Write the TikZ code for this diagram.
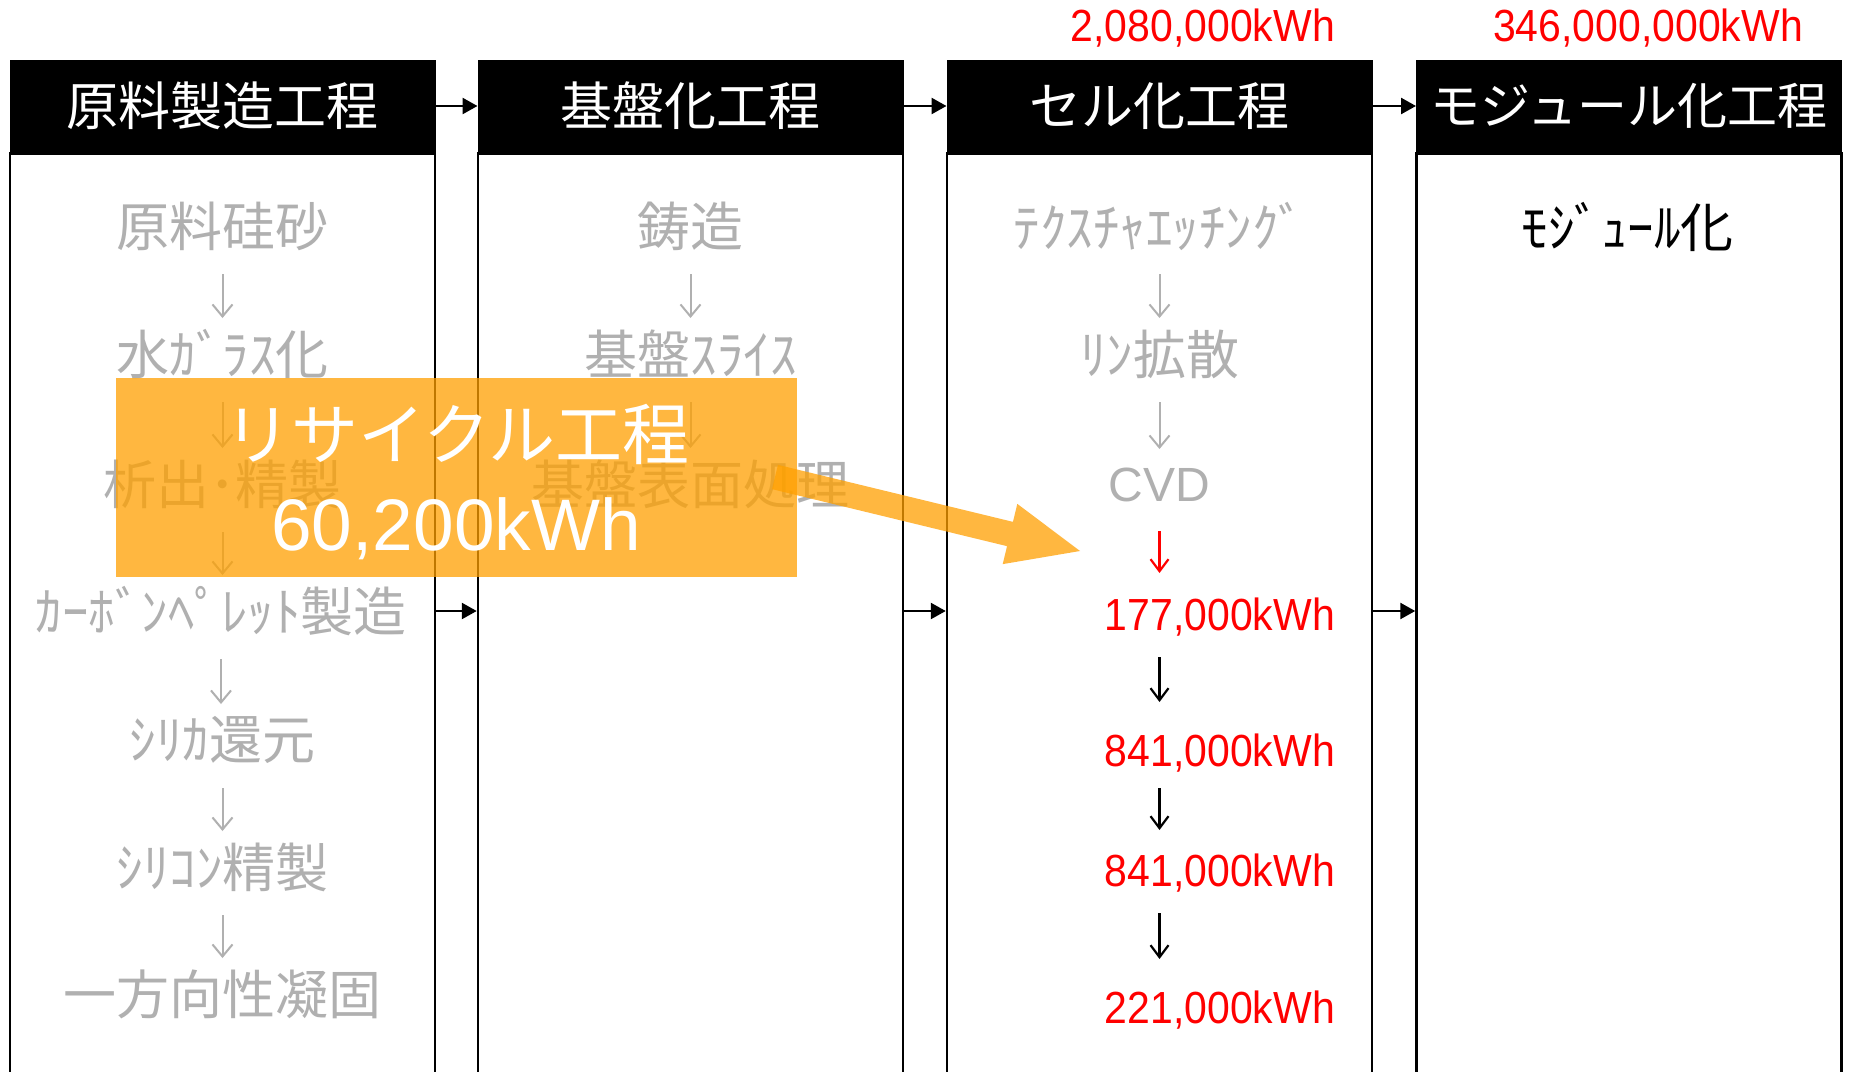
\documentclass[tikz,border=0pt]{standalone}
\usepackage{fontspec}
\newfontfamily\jp{Noto Sans CJK JP}
\newfontfamily\lat{Liberation Sans}
\newfontfamily\numf[FakeStretch=0.91]{Liberation Sans}
\usetikzlibrary{arrows.meta,calc}
\definecolor{txtgray}{RGB}{176,176,176}
\definecolor{recorange}{RGB}{255,160,0}
\definecolor{numred}{RGB}{255,0,0}
\begin{document}
\begin{tikzpicture}[x=1pt,y=-1pt,
  colbox/.style={draw=black, line width=2.5pt, minimum width=425pt, minimum height=940pt, anchor=north, inner sep=0pt},
  header/.style={fill=black, draw=black, line width=1pt, minimum width=425pt, minimum height=92pt, inner sep=0pt, text=white, font=\jp\fontsize{52}{60}\selectfont},
  item/.style={text=txtgray, inner sep=0pt, font=\jp\fontsize{53}{60}\selectfont},
  numlabel/.style={text=numred, inner sep=0pt, anchor=east, font=\numf\fontsize{45}{50}\selectfont},
  garr/.style={draw=txtgray, line width=2pt, -{Straight Barb[length=12pt,width=20pt,line width=2pt]}},
  rarr/.style={draw=numred, line width=2.2pt, -{Straight Barb[length=12pt,width=18pt,line width=2.2pt]}},
  barr/.style={draw=black, line width=2.2pt, -{Straight Barb[length=12pt,width=18pt,line width=2.2pt]}},
  harr/.style={draw=black, line width=2.5pt, -{Triangle[length=15pt,width=16pt]}},
  recbox/.style={fill=recorange, fill opacity=0.75, text opacity=1, inner sep=0pt, minimum width=681pt, minimum height=199pt}
]
\useasboundingbox (0,0) rectangle (1849,1071);
\fill[white] (0,0) rectangle (1849,1071);

% column bodies
\node[colbox] (b1) at (222.5,152) {};
\node[colbox] (b2) at (690.5,152) {};
\node[colbox] (b3) at (1159.5,152) {};
\node[colbox] (b4) at (1629,152) {};

% headers
\node[header] (h1) at (222.5,106) {原料製造工程};
\node[header] (h2) at (690.5,106) {基盤化工程};
\node[header] (h3) at (1159.5,106) {セル化工程};
\node[header, font=\jp\fontsize{50}{60}\selectfont] (h4) at (1629,106) {モジュール化工程};

\draw[harr] (h1.east) -- (h2.west);
\draw[harr] (h2.east) -- (h3.west);
\draw[harr] (h3.east) -- (h4.west);

% top energy labels
\node[numlabel] (t3) at (1335,28) {2,080,000kWh};
\node[numlabel] (t4) at (1803,28) {346,000,000kWh};

% column 1 items
\node[item] (i11) at (222.5,226) {原料硅砂};
\node[item] (i12) at (222.5,354) {水ｶﾞﾗｽ化};
\node[item] (i13) at (222.5,484) {析出･精製};
\node[item] (i14) at (221,611) {ｶｰﾎﾞﾝﾍﾟﾚｯﾄ製造};
\node[item] (i15) at (222.5,740) {ｼﾘｶ還元};
\node[item] (i16) at (222.5,867) {ｼﾘｺﾝ精製};
\node[item] (i17) at (222.5,994) {一方向性凝固};
\draw[garr] ($(i11.center)+(0,48)$) -- ($(i11.center |- i12.center)+(0,-36)$);
\draw[garr] ($(i12.center)+(0,48)$) -- ($(i12.center |- i13.center)+(0,-36)$);
\draw[garr] ($(i13.center)+(0,48)$) -- ($(i13.center |- i14.center)+(0,-36)$);
\draw[garr] ($(i14.center)+(0,48)$) -- ($(i14.center |- i15.center)+(0,-36)$);
\draw[garr] ($(i15.center)+(0,48)$) -- ($(i15.center |- i16.center)+(0,-36)$);
\draw[garr] ($(i16.center)+(0,48)$) -- ($(i16.center |- i17.center)+(0,-36)$);

% column 2 items
\node[item] (i21) at (690.5,226) {鋳造};
\node[item] (i22) at (690.5,354) {基盤ｽﾗｲｽ};
\node[item] (i23) at (690.5,484) {基盤表面処理};
\draw[garr] ($(i21.center)+(0,48)$) -- ($(i21.center |- i22.center)+(0,-36)$);
\draw[garr] ($(i22.center)+(0,48)$) -- ($(i22.center |- i23.center)+(0,-36)$);

% column 3 items
\node[item] (i31) at (1159.5,226) {ﾃｸｽﾁｬｴｯﾁﾝｸﾞ};
\node[item] (i32) at (1159.5,354) {ﾘﾝ拡散};
\node[item, font=\lat\fontsize{48}{50}\selectfont] (i33) at (1159.5,485) {CVD};
\draw[garr] ($(i31.center)+(0,48)$) -- ($(i31.center |- i32.center)+(0,-36)$);
\draw[garr] ($(i32.center)+(0,48)$) -- ($(i32.center |- i33.center)+(0,-36)$);

\node[numlabel] (n1) at (1335,617) {177,000kWh};
\node[numlabel] (n2) at (1335,753) {841,000kWh};
\node[numlabel] (n3) at (1335,873) {841,000kWh};
\node[numlabel] (n4) at (1335,1010) {221,000kWh};
\draw[rarr] ($(i33.center)+(0,46)$) -- ($(i33.center |- n1.center)+(0,-44)$);
\draw[barr] ($(i33.center |- n1.center)+(0,40)$) -- ($(i33.center |- n2.center)+(0,-51)$);
\draw[barr] ($(i33.center |- n2.center)+(0,35)$) -- ($(i33.center |- n3.center)+(0,-43)$);
\draw[barr] ($(i33.center |- n3.center)+(0,40)$) -- ($(i33.center |- n4.center)+(0,-51)$);

% column 4 item
\node[item, text=black] (i41) at (1627.5,227) {ﾓｼﾞｭｰﾙ化};

% row arrows between columns
\draw[harr] (b1.east |- i14.center) -- (b2.west |- i14.center);
\draw[harr] (b2.east |- i14.center) -- (b3.west |- i14.center);
\draw[harr] (b3.east |- i14.center) -- (b4.west |- i14.center);

% recycle overlay
\node[recbox] (rec) at (456.5,477.5) {};
\node[text=white, inner sep=0pt, font=\jp\fontsize{67}{70}\selectfont] (rt1) at (457,434) {リサイクル工程};
\node[text=white, inner sep=0pt, anchor=base, font=\lat\fontsize{73}{75}\selectfont] (rt2) at (456,550) {60,200kWh};
\fill[recorange, fill opacity=0.75] (777.95,464.85) -- (1012.95,521.85) -- (1017.31,503.87) -- (1080,551) -- (1002.69,564.13) -- (1007.05,546.15) -- (772.05,489.15) -- cycle;
\end{tikzpicture}
\end{document}
